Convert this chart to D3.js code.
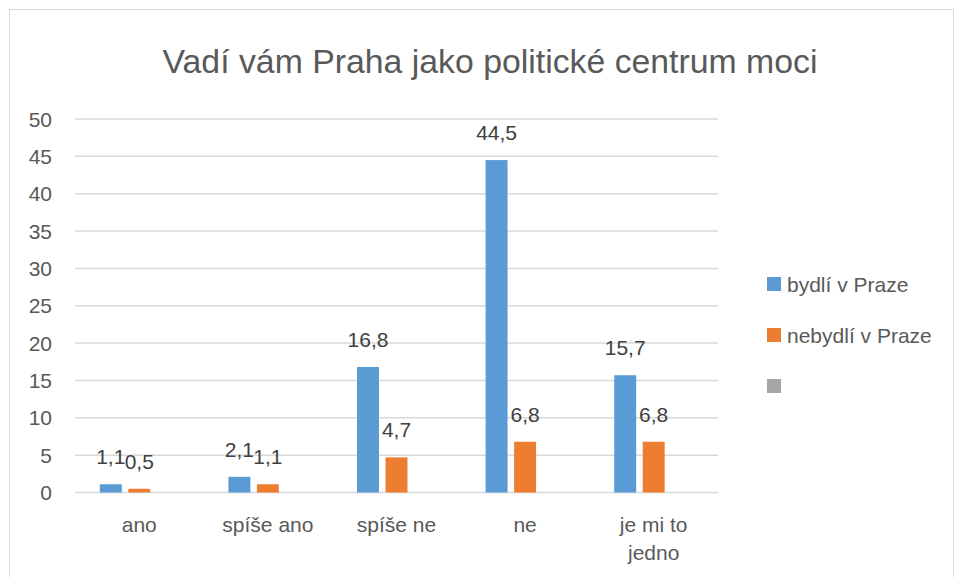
<!DOCTYPE html>
<html>
<head>
<meta charset="utf-8">
<script src="https://cdn.jsdelivr.net/npm/d3@7"></script>
<style>
  html, body { margin: 0; padding: 0; background: #fff; }
  svg text { font-family: "Liberation Sans", Arial, sans-serif; fill: #595959; }
</style>
</head>
<body>
<svg id="chart" width="956" height="577"></svg>
<script>
const categories = ["ano", "spíše ano", "spíše ne", "ne", "je mi to jedno"];
const seriesNames = ["bydlí v Praze", "nebydlí v Praze", ""];
const bydli = [1.1, 2.1, 16.8, 44.5, 15.7];
const nebydli = [0.5, 1.1, 4.7, 6.8, 6.8];
const third = [null, null, null, null, null];
const yTicks = [0, 5, 10, 15, 20, 25, 30, 35, 40, 45, 50];
const colors = ["#5b9bd5", "#ed7d31", "#a5a5a5"];

const seriesValues = [bydli, nebydli, third];

const margin = { top: 119, left: 75, right: 238, bottom: 84.5 };
const width = 956;
const height = 577;

const svg = d3.select("#chart");

// outer chart border
svg.append("rect")
  .attr("x", 9.5).attr("y", 9.5)
  .attr("width", 944).attr("height", 580)
  .attr("fill", "none")
  .attr("stroke", "#d9d9d9");

svg.append("text")
  .attr("x", 490)
  .attr("y", 73)
  .attr("text-anchor", "middle")
  .style("font-size", "33.8px")
  .text("Vadí vám Praha jako politické centrum moci");

const x0 = d3.scaleBand()
  .domain(categories)
  .range([margin.left, width - margin.right]);

const x1 = d3.scaleBand()
  .domain(d3.range(seriesNames.length))
  .range([0, x0.bandwidth()])
  .paddingInner(0.23)
  .paddingOuter(0.87);

const y = d3.scaleLinear()
  .domain([0, 50])
  .range([height - margin.bottom, margin.top]);

// gridlines
svg.append("g")
  .selectAll("line")
  .data(yTicks)
  .join("line")
  .attr("x1", margin.left)
  .attr("x2", width - margin.right)
  .attr("y1", (d) => y(d))
  .attr("y2", (d) => y(d))
  .attr("stroke", "#d9d9d9")
  .attr("stroke-width", 1.5);

// y tick labels
svg.append("g")
  .selectAll("text")
  .data(yTicks)
  .join("text")
  .attr("x", 52)
  .attr("y", (d) => y(d))
  .attr("dy", "0.36em")
  .attr("text-anchor", "end")
  .style("font-size", "21px")
  .text((d) => d);

// bars
const groups = svg.append("g")
  .selectAll("g")
  .data(categories)
  .join("g")
  .attr("transform", (d) => `translate(${x0(d)},0)`);

const fmt = (v) => String(v).replace(".", ",");

groups.each(function (cat, ci) {
  const g = d3.select(this);
  const vals = seriesValues
    .map((s, si) => ({ si, v: s[ci] }))
    .filter((d) => d.v != null);

  g.selectAll("rect")
    .data(vals)
    .join("rect")
    .attr("x", (d) => x1(d.si))
    .attr("width", x1.bandwidth())
    .attr("y", (d) => y(d.v))
    .attr("height", (d) => y(0) - y(d.v))
    .attr("fill", (d) => colors[d.si]);

  g.selectAll("text.val")
    .data(vals)
    .join("text")
    .attr("class", "val")
    .attr("x", (d) => x1(d.si) + x1.bandwidth() / 2)
    .attr("y", (d) => y(d.v) - 20)
    .attr("text-anchor", "middle")
    .style("font-size", "21px")
    .style("fill", "#404040")
    .text((d) => fmt(d.v));
});

// category labels
const catLines = {
  "je mi to jedno": ["je mi to", "jedno"],
};
svg.append("g")
  .selectAll("text")
  .data(categories)
  .join("text")
  .attr("x", (d) => x0(d) + x0.bandwidth() / 2)
  .attr("y", 532)
  .attr("text-anchor", "middle")
  .style("font-size", "21px")
  .each(function (d) {
    const lines = catLines[d] || [d];
    d3.select(this)
      .selectAll("tspan")
      .data(lines)
      .join("tspan")
      .attr("x", x0(d) + x0.bandwidth() / 2)
      .attr("dy", (l, i) => (i === 0 ? 0 : 28))
      .text((l) => l);
  });

// legend
const legend = svg.append("g")
  .selectAll("g")
  .data(seriesNames)
  .join("g")
  .attr("transform", (d, i) => `translate(767,${277 + i * 51})`);

legend.append("rect")
  .attr("width", 14)
  .attr("height", 14)
  .attr("fill", (d, i) => colors[i]);

legend.append("text")
  .attr("x", 20)
  .attr("y", 7)
  .attr("dy", "0.36em")
  .style("font-size", "21px")
  .text((d) => d);
</script>
</body>
</html>
